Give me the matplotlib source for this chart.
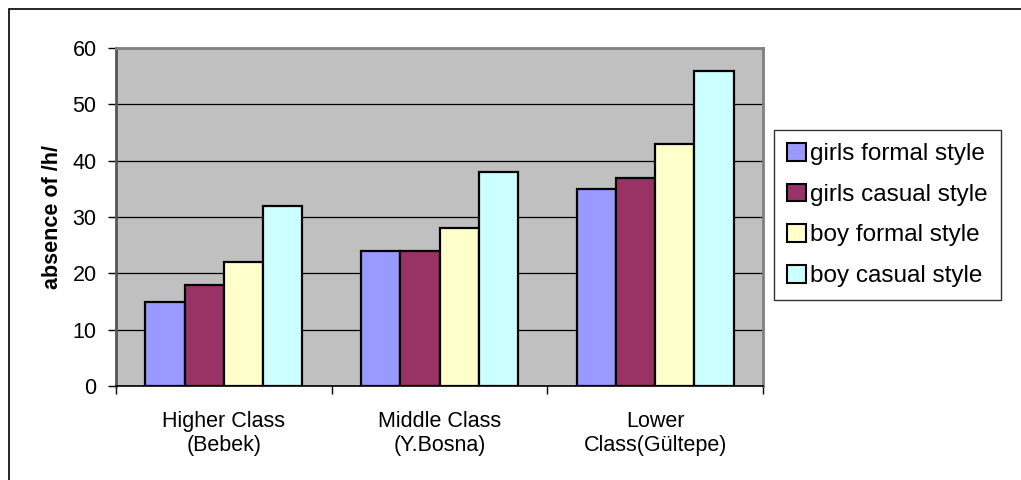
import matplotlib as mpl
mpl.use("Agg")
import matplotlib.pyplot as plt
from matplotlib.patches import Rectangle
import numpy as np

plt.rcParams['font.family'] = ['Liberation Sans', 'DejaVu Sans']

categories = ["Higher Class\n(Bebek)", "Middle Class\n(Y.Bosna)", "Lower\nClass(Gültepe)"]
series = ["girls formal style", "girls casual style", "boy formal style", "boy casual style"]
girls_formal = [15, 24, 35]
girls_casual = [18, 24, 37]
boy_formal = [22, 28, 43]
boy_casual = [32, 38, 56]
colors = ["#9999FF", "#993366", "#FFFFCC", "#CCFFFF"]

fig = plt.figure(figsize=(10.21, 4.8), dpi=100)
ax = fig.add_axes([116 / 1021, 1 - 386 / 480, (763 - 116) / 1021, (386 - 48) / 480])

# outer chart frame (only the top and left edges fall inside the canvas)
fig.patches.append(Rectangle((9 / 1021, -0.5), 2, 1.5 - 9 / 480, transform=fig.transFigure,
                             fill=False, edgecolor="black", linewidth=1.2))

x = np.arange(len(categories))
w = 0.182
for i, (vals, name) in enumerate(zip([girls_formal, girls_casual, boy_formal, boy_casual], series)):
    ax.bar(x + (i - 1.5) * w, vals, w, color=colors[i], edgecolor="black",
           linewidth=1.6, label=name, zorder=3)

ax.set_facecolor("#C0C0C0")
ax.set_xlim(-0.5, 2.5)
ax.set_ylim(0, 60)
ax.set_yticks(range(0, 61, 10))
ax.yaxis.grid(True, color="black", linewidth=0.9, zorder=1)
ax.set_axisbelow(True)

ax.set_xticks(x)
ax.set_xticklabels(categories, fontsize=15.5, linespacing=1.2)
ax.set_xticks([-0.5, 0.5, 1.5, 2.5], minor=True)
ax.tick_params(axis="x", which="major", length=0, pad=18)
ax.tick_params(axis="x", which="minor", length=6, width=1, direction="out")
ax.tick_params(axis="y", length=6, width=1, pad=8, labelsize=15.5)

for side in ["top", "right"]:
    ax.spines[side].set_color("#808080")
    ax.spines[side].set_linewidth(2)
ax.spines["left"].set_color("#555555")
ax.spines["left"].set_linewidth(2)
ax.spines["bottom"].set_color("black")
ax.spines["bottom"].set_linewidth(1.2)

ax.set_ylabel("absence of /h/", fontsize=15.5, fontweight="bold", labelpad=7)

leg = fig.legend(loc="center left", bbox_to_anchor=(774 / 1021, 1 - 215 / 480),
                 fontsize=17.5, frameon=True, fancybox=False, edgecolor="black",
                 handlelength=0.75, handleheight=0.75, handletextpad=0.2,
                 labelspacing=0.75, borderpad=0.55, borderaxespad=0)
leg.get_frame().set_linewidth(1.0)
for h in leg.legend_handles:
    h.set_linewidth(1.5)

plt.savefig("out.png", dpi=100)
